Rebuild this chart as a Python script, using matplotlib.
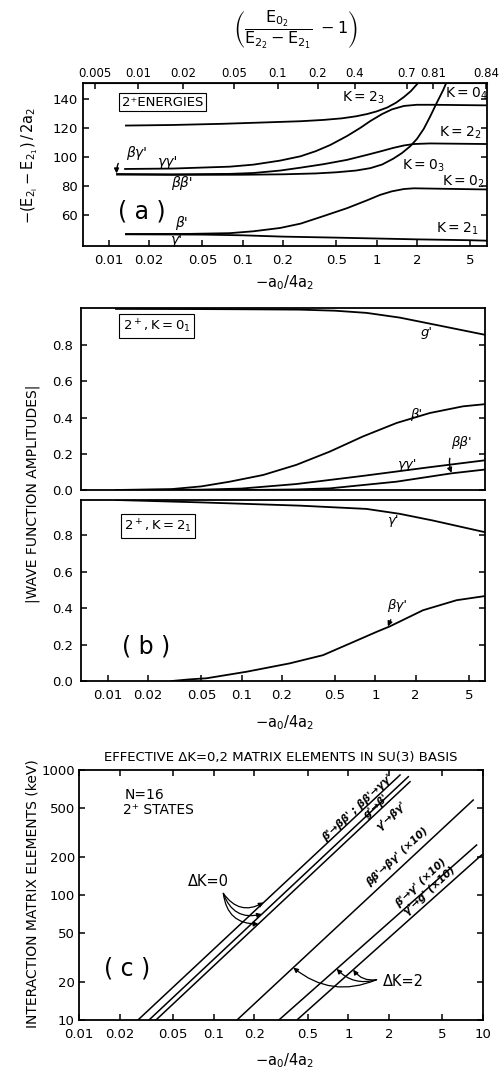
import numpy as np
import matplotlib
matplotlib.use("Agg")
import matplotlib.pyplot as plt
from matplotlib.ticker import FixedLocator, FixedFormatter, NullLocator

plt.rcParams['font.family'] = ['DejaVu Sans']
plt.rcParams['mathtext.fontset'] = 'dejavusans'
plt.rcParams['mathtext.default'] = 'regular'

# ---------------- data ----------------
# panel (a): 2+ energies, -(E2i - E21)/2a2 vs -a0/4a2
a_ticks = [0.01, 0.02, 0.05, 0.1, 0.2, 0.5, 1, 2, 5]
a_tick_labels = ["0.01", "0.02", "0.05", "0.1", "0.2", "0.5", "1", "2", "5"]
a_top_pos = [0.0079, 0.0165, 0.0357, 0.086, 0.183, 0.365, 0.69, 1.68, 2.65, 6.6]
a_top_labels = ["0.005", "0.01", "0.02", "0.05", "0.1", "0.2", "0.4", "0.7", "0.81", "0.84"]
a_yticks = [60, 80, 100, 120, 140]

k23_x = [0.0134, 0.03, 0.07, 0.15, 0.27, 0.4, 0.55, 0.7, 0.85, 1.0, 1.2, 1.4, 1.6, 1.8, 2.05]
k23_y = [121.8, 122.2, 123.0, 124.0, 124.8, 125.7, 126.8, 128.2, 129.8, 131.6, 134.3, 137.7,
         141.6, 145.6, 151.5]

k04_x = [0.0132, 0.03, 0.08, 0.12, 0.19, 0.27, 0.35, 0.45, 0.6, 0.75, 0.9, 1.1, 1.3, 1.6,
         2.0, 2.65, 6.6]
k04_y = [91.7, 92.0, 93.3, 94.7, 97.5, 100.5, 104.0, 108.3, 114.5, 120.0, 125.0, 129.8,
         133.0, 135.4, 136.2, 136.2, 135.8]

k22_x = [0.0115, 0.03, 0.08, 0.12, 0.19, 0.27, 0.4, 0.6, 0.85, 1.1, 1.33, 1.6, 1.9, 2.5, 6.6]
k22_y = [88.2, 88.0, 88.3, 88.9, 90.6, 92.6, 95.0, 98.0, 101.5, 104.2, 106.3, 108.0, 109.0,
         109.4, 109.0]

k03_x = [0.0115, 0.03, 0.1, 0.2, 0.35, 0.5, 0.7, 0.9, 1.1, 1.33, 1.55, 1.78, 2.0, 2.25, 2.51,
         2.81, 3.15, 3.35]
k03_y = [87.8, 87.6, 87.7, 88.0, 88.6, 89.4, 90.6, 92.3, 94.8, 98.8, 102.8, 107.4, 112.5,
         119.5, 128.0, 137.4, 146.6, 152.4]

k02_x = [0.0134, 0.04, 0.08, 0.12, 0.19, 0.27, 0.4, 0.6, 0.85, 1.06, 1.3, 1.6, 1.9, 3.0, 6.6]
k02_y = [46.6, 46.7, 47.2, 48.5, 50.8, 53.8, 59.0, 64.5, 70.0, 73.7, 76.2, 77.8, 78.3, 78.0, 77.5]

k21_x = [0.0134, 0.05, 0.1, 0.2, 0.5, 1.0, 2.0, 5.0, 6.6]
k21_y = [46.4, 46.2, 45.7, 44.8, 44.1, 43.5, 42.9, 42.3, 42.0]

# panel (b): wave function amplitudes
b_ticks = a_ticks
b_tick_labels = a_tick_labels
b_yticks = [0.0, 0.2, 0.4, 0.6, 0.8]
b_ytick_labels = ["0.0", "0.2", "0.4", "0.6", "0.8"]

g1_x = [0.0115, 0.05, 0.1, 0.272, 0.5, 0.86, 1.52, 2.7, 6.6]
g1_y = [1.0, 0.999, 0.998, 0.996, 0.99, 0.978, 0.952, 0.915, 0.857]

b1_x = [0.0115, 0.03, 0.05, 0.0816, 0.145, 0.257, 0.456, 0.809, 1.44, 2.55, 4.52, 6.6]
b1_y = [0.0, 0.005, 0.02, 0.046, 0.083, 0.139, 0.212, 0.296, 0.37, 0.425, 0.462, 0.474]

gg1_x = [0.0115, 0.05, 0.1, 0.257, 0.809, 2.55, 6.6]
gg1_y = [0.0, 0.002, 0.008, 0.033, 0.078, 0.126, 0.164]

bb1_x = [0.0115, 0.1, 0.25, 0.456, 1.44, 3.71, 6.6]
bb1_y = [0.0, 0.0, 0.003, 0.009, 0.046, 0.092, 0.113]

gp2_x = [0.0115, 0.0487, 0.272, 0.858, 1.52, 2.7, 6.6]
gp2_y = [0.995, 0.982, 0.964, 0.946, 0.919, 0.882, 0.818]

bg2_x = [0.03, 0.041, 0.0547, 0.109, 0.229, 0.406, 0.644, 1.02, 1.28, 2.27, 4.04, 6.6]
bg2_y = [0.0, 0.009, 0.015, 0.051, 0.097, 0.142, 0.206, 0.27, 0.30, 0.389, 0.444, 0.467]

# panel (c): effective matrix elements (straight lines, start / end points)
c_ticks = [0.01, 0.02, 0.05, 0.1, 0.2, 0.5, 1, 2, 5, 10]
c_tick_labels = ["0.01", "0.02", "0.05", "0.1", "0.2", "0.5", "1", "2", "5", "10"]
c_yticks = [10, 20, 50, 100, 200, 500, 1000]
c_ytick_labels = ["10", "20", "50", "100", "200", "500", "1000"]
c_x0 = [0.0274, 0.0331, 0.0373, 0.149, 0.305, 0.415]
c_x1 = [2.42, 2.79, 2.87, 8.46, 8.96, 9.77]
c_y0 = [10, 10, 10, 10, 10, 10]
c_y1 = [912, 884, 806, 575, 251, 209]
c_labels = ["β'→ββ' ; ββ'→γγ'", "g'→β'", "γ'→βγ'",
            "ββ'→βγ' (×10)", "β'→γ' (×10)", "γ'→g' (×10)"]

# ---------------- figure ----------------
W, H = 503, 1071
fig = plt.figure(figsize=(W / 100, H / 100), dpi=100)


def px_axes(l, t, r, b):
    return fig.add_axes([l / W, 1 - b / H, (r - l) / W, (b - t) / H])


def ftext(x, y, s, **kw):
    fig.text(x / W, 1 - y / H, s, ha='center', va='center', **kw)


def style(ax, xt, xl, yt, yl, xpad=6, ypad=5):
    ax.set_xscale('log')
    for sp in ax.spines.values():
        sp.set_linewidth(1.3)
    ax.xaxis.set_major_locator(FixedLocator(xt))
    ax.xaxis.set_major_formatter(FixedFormatter(xl))
    ax.xaxis.set_minor_locator(NullLocator())
    ax.yaxis.set_major_locator(FixedLocator(yt))
    ax.yaxis.set_major_formatter(FixedFormatter(yl))
    ax.yaxis.set_minor_locator(NullLocator())
    ax.tick_params(axis='x', direction='in', length=4, width=1.1, labelsize=9.5,
                   pad=xpad, bottom=True, top=False)
    ax.tick_params(axis='y', direction='in', length=4, width=1.1, labelsize=9.5,
                   pad=ypad, left=True, right=True)


lw = 1.3

# ---- (a)
ax_a = px_axes(83, 83, 487, 246)
style(ax_a, a_ticks, a_tick_labels, a_yticks, [str(v) for v in a_yticks], xpad=6, ypad=4)
ax_a.set_xlim(0.0064, 6.68)
ax_a.set_ylim(38.3, 151.3)
for xs, ys in [(k23_x, k23_y), (k04_x, k04_y), (k22_x, k22_y),
               (k03_x, k03_y), (k02_x, k02_y), (k21_x, k21_y)]:
    ax_a.plot(xs, ys, color='black', lw=lw)

top = ax_a.secondary_xaxis('top')
top.xaxis.set_major_locator(FixedLocator(a_top_pos))
top.xaxis.set_major_formatter(FixedFormatter(a_top_labels))
top.xaxis.set_minor_locator(NullLocator())
top.tick_params(direction='in', length=4, width=1.1, labelsize=8.5, pad=2)

ax_a.text(0.0251, 137.9, "2⁺ENERGIES", ha='center', va='center', fontsize=9.5,
          bbox=dict(boxstyle='square,pad=0.2', fc='white', ec='black', lw=0.8))
ax_a.text(0.0117, 62, "( a )", ha='left', va='center', fontsize=17)
ax_a.text(0.791, 140.8, "$K=2_3$", ha='center', va='center', fontsize=10)
ax_a.text(4.71, 143.6, "$K=0_4$", ha='center', va='center', fontsize=10)
ax_a.text(4.2, 116.5, "$K=2_2$", ha='center', va='center', fontsize=10)
ax_a.text(2.23, 94.0, "$K=0_3$", ha='center', va='center', fontsize=10)
ax_a.text(4.42, 82.9, "$K=0_2$", ha='center', va='center', fontsize=10)
ax_a.text(3.97, 49.9, "$K=2_1$", ha='center', va='center', fontsize=10)
ax_a.text(0.0277, 96.8, "γγ'", ha='center', va='center', fontsize=10, style='italic')
ax_a.text(0.0349, 82.2, "ββ'", ha='center', va='center', fontsize=10, style='italic')
ax_a.text(0.0349, 54.0, "β'", ha='center', va='center', fontsize=10, style='italic')
ax_a.text(0.0321, 42.4, "γ'", ha='center', va='center', fontsize=10, style='italic')
ax_a.annotate("βγ'", xy=(0.0114, 88.6), xytext=(0.0161, 102.6), ha='center', va='center',
              fontsize=10, style='italic',
              arrowprops=dict(arrowstyle='-|>', color='black', lw=1.0, mutation_scale=7,
                              connectionstyle='arc3,rad=0.5', shrinkA=6, shrinkB=0))

ftext(295, 30, r'$\left(\dfrac{E_{0_2}}{E_{2_2}-E_{2_1}}\ -1\right)$', fontsize=11.5)
ftext(285, 283, '$-a_0/4a_2$', fontsize=10.5)
ftext(30, 165, '$-(E_{2_i}-E_{2_1})\\,/\\,2a_2$', fontsize=10.5, rotation=90)

# ---- (b) upper
ax_b1 = px_axes(81, 308, 485, 490)
style(ax_b1, b_ticks, b_tick_labels, b_yticks, b_ytick_labels, xpad=6, ypad=6)
ax_b1.tick_params(axis='x', bottom=False, labelbottom=False)
ax_b1.set_xlim(0.0063, 6.6)
ax_b1.set_ylim(0, 1.005)
for xs, ys in [(g1_x, g1_y), (b1_x, b1_y), (gg1_x, gg1_y), (bb1_x, bb1_y)]:
    ax_b1.plot(xs, ys, color='black', lw=lw)
ax_b1.text(0.0231, 0.905, "$2^+, K=0_1$", ha='center', va='center', fontsize=9.5,
           bbox=dict(boxstyle='square,pad=0.25', fc='white', ec='black', lw=0.8))
ax_b1.text(2.41, 0.869, "g'", ha='center', va='center', fontsize=9.5, style='italic')
ax_b1.text(2.03, 0.416, "β'", ha='center', va='center', fontsize=9.5, style='italic')
ax_b1.text(1.71, 0.139, "γγ'", ha='center', va='center', fontsize=9.5, style='italic')
ax_b1.annotate("ββ'", xy=(3.71, 0.095), xytext=(4.4, 0.262), ha='center', va='center',
               fontsize=9.5, style='italic',
               arrowprops=dict(arrowstyle='-|>', color='black', lw=1.0, mutation_scale=7,
                               connectionstyle='arc3,rad=0.4', shrinkA=5, shrinkB=0))

# ---- (b) lower
ax_b2 = px_axes(81, 500, 485, 681)
style(ax_b2, b_ticks, b_tick_labels, b_yticks, b_ytick_labels, xpad=6, ypad=6)
ax_b2.set_xlim(0.0063, 6.6)
ax_b2.set_ylim(0, 0.995)
for xs, ys in [(gp2_x, gp2_y), (bg2_x, bg2_y)]:
    ax_b2.plot(xs, ys, color='black', lw=lw)
ax_b2.text(0.0238, 0.85, "$2^+, K=2_1$", ha='center', va='center', fontsize=9.5,
           bbox=dict(boxstyle='square,pad=0.25', fc='white', ec='black', lw=0.8))
ax_b2.text(1.36, 0.882, "γ'", ha='center', va='center', fontsize=9.5, style='italic')
ax_b2.annotate("βγ'", xy=(1.24, 0.30), xytext=(1.45, 0.416), ha='center', va='center',
               fontsize=9.5, style='italic',
               arrowprops=dict(arrowstyle='-|>', color='black', lw=1.0, mutation_scale=7,
                               shrinkA=4, shrinkB=0))
ax_b2.text(0.0127, 0.188, "( b )", ha='left', va='center', fontsize=17)

ftext(285, 723, '$-a_0/4a_2$', fontsize=10.5)
ftext(33, 494, '|WAVE FUNCTION AMPLITUDES|', fontsize=10, rotation=90)

# ---- (c)
ax_c = px_axes(79, 770, 483, 1020)
ax_c.set_yscale('log')
style(ax_c, c_ticks, c_tick_labels, c_yticks, c_ytick_labels, xpad=6, ypad=3)
ax_c.tick_params(axis='x', top=True)
ax_c.set_xlim(0.01, 10)
ax_c.set_ylim(10, 1000)
for x0, x1, y0, y1 in zip(c_x0, c_x1, c_y0, c_y1):
    ax_c.plot([x0, x1], [y0, y1], color='black', lw=1.1)

c_label_pos = [(1.18, 497), (1.62, 509), (2.1, 430), (2.31, 202), (3.45, 126), (4.03, 108)]
for (lx, ly), s in zip(c_label_pos, c_labels):
    ax_c.text(lx, ly, s, ha='center', va='center', rotation=43, fontsize=7.5,
              fontweight='bold', style='italic')


def on_line(i, x):
    return 10 ** np.interp(np.log10(x), np.log10([c_x0[i], c_x1[i]]),
                           np.log10([c_y0[i], c_y1[i]]))


ax_c.text(0.0309, 631, "N=16", ha='center', va='center', fontsize=10)
ax_c.text(0.0386, 479, "2⁺ STATES", ha='center', va='center', fontsize=10)
ax_c.text(0.0227, 26, "( c )", ha='center', va='center', fontsize=17)

ax_c.text(0.0912, 127.7, "ΔK=0", ha='center', va='center', fontsize=10.5)
for i, tx in zip([0, 1, 2], [0.235, 0.228, 0.215]):
    ax_c.annotate("", xy=(tx, on_line(i, tx)), xytext=(0.118, 103),
                  arrowprops=dict(arrowstyle='-|>', color='black', lw=0.9, mutation_scale=7,
                                  connectionstyle='arc3,rad=0.45', shrinkA=0, shrinkB=0))

ax_c.text(2.55, 20.2, "ΔK=2", ha='center', va='center', fontsize=10.5)
for i, tx in zip([3, 4, 5], [0.39, 0.819, 1.087]):
    ax_c.annotate("", xy=(tx, on_line(i, tx)), xytext=(1.62, 21.0),
                  arrowprops=dict(arrowstyle='-|>', color='black', lw=0.9, mutation_scale=7,
                                  connectionstyle='arc3,rad=-0.3', shrinkA=0, shrinkB=0))

ftext(281, 757, "EFFECTIVE ΔK=0,2 MATRIX ELEMENTS IN SU(3) BASIS", fontsize=9.5)
ftext(285, 1061, '$-a_0/4a_2$', fontsize=10.5)
ftext(33, 894, 'INTERACTION MATRIX ELEMENTS (keV)', fontsize=10, rotation=90)

fig.savefig("out.png", dpi=100)
